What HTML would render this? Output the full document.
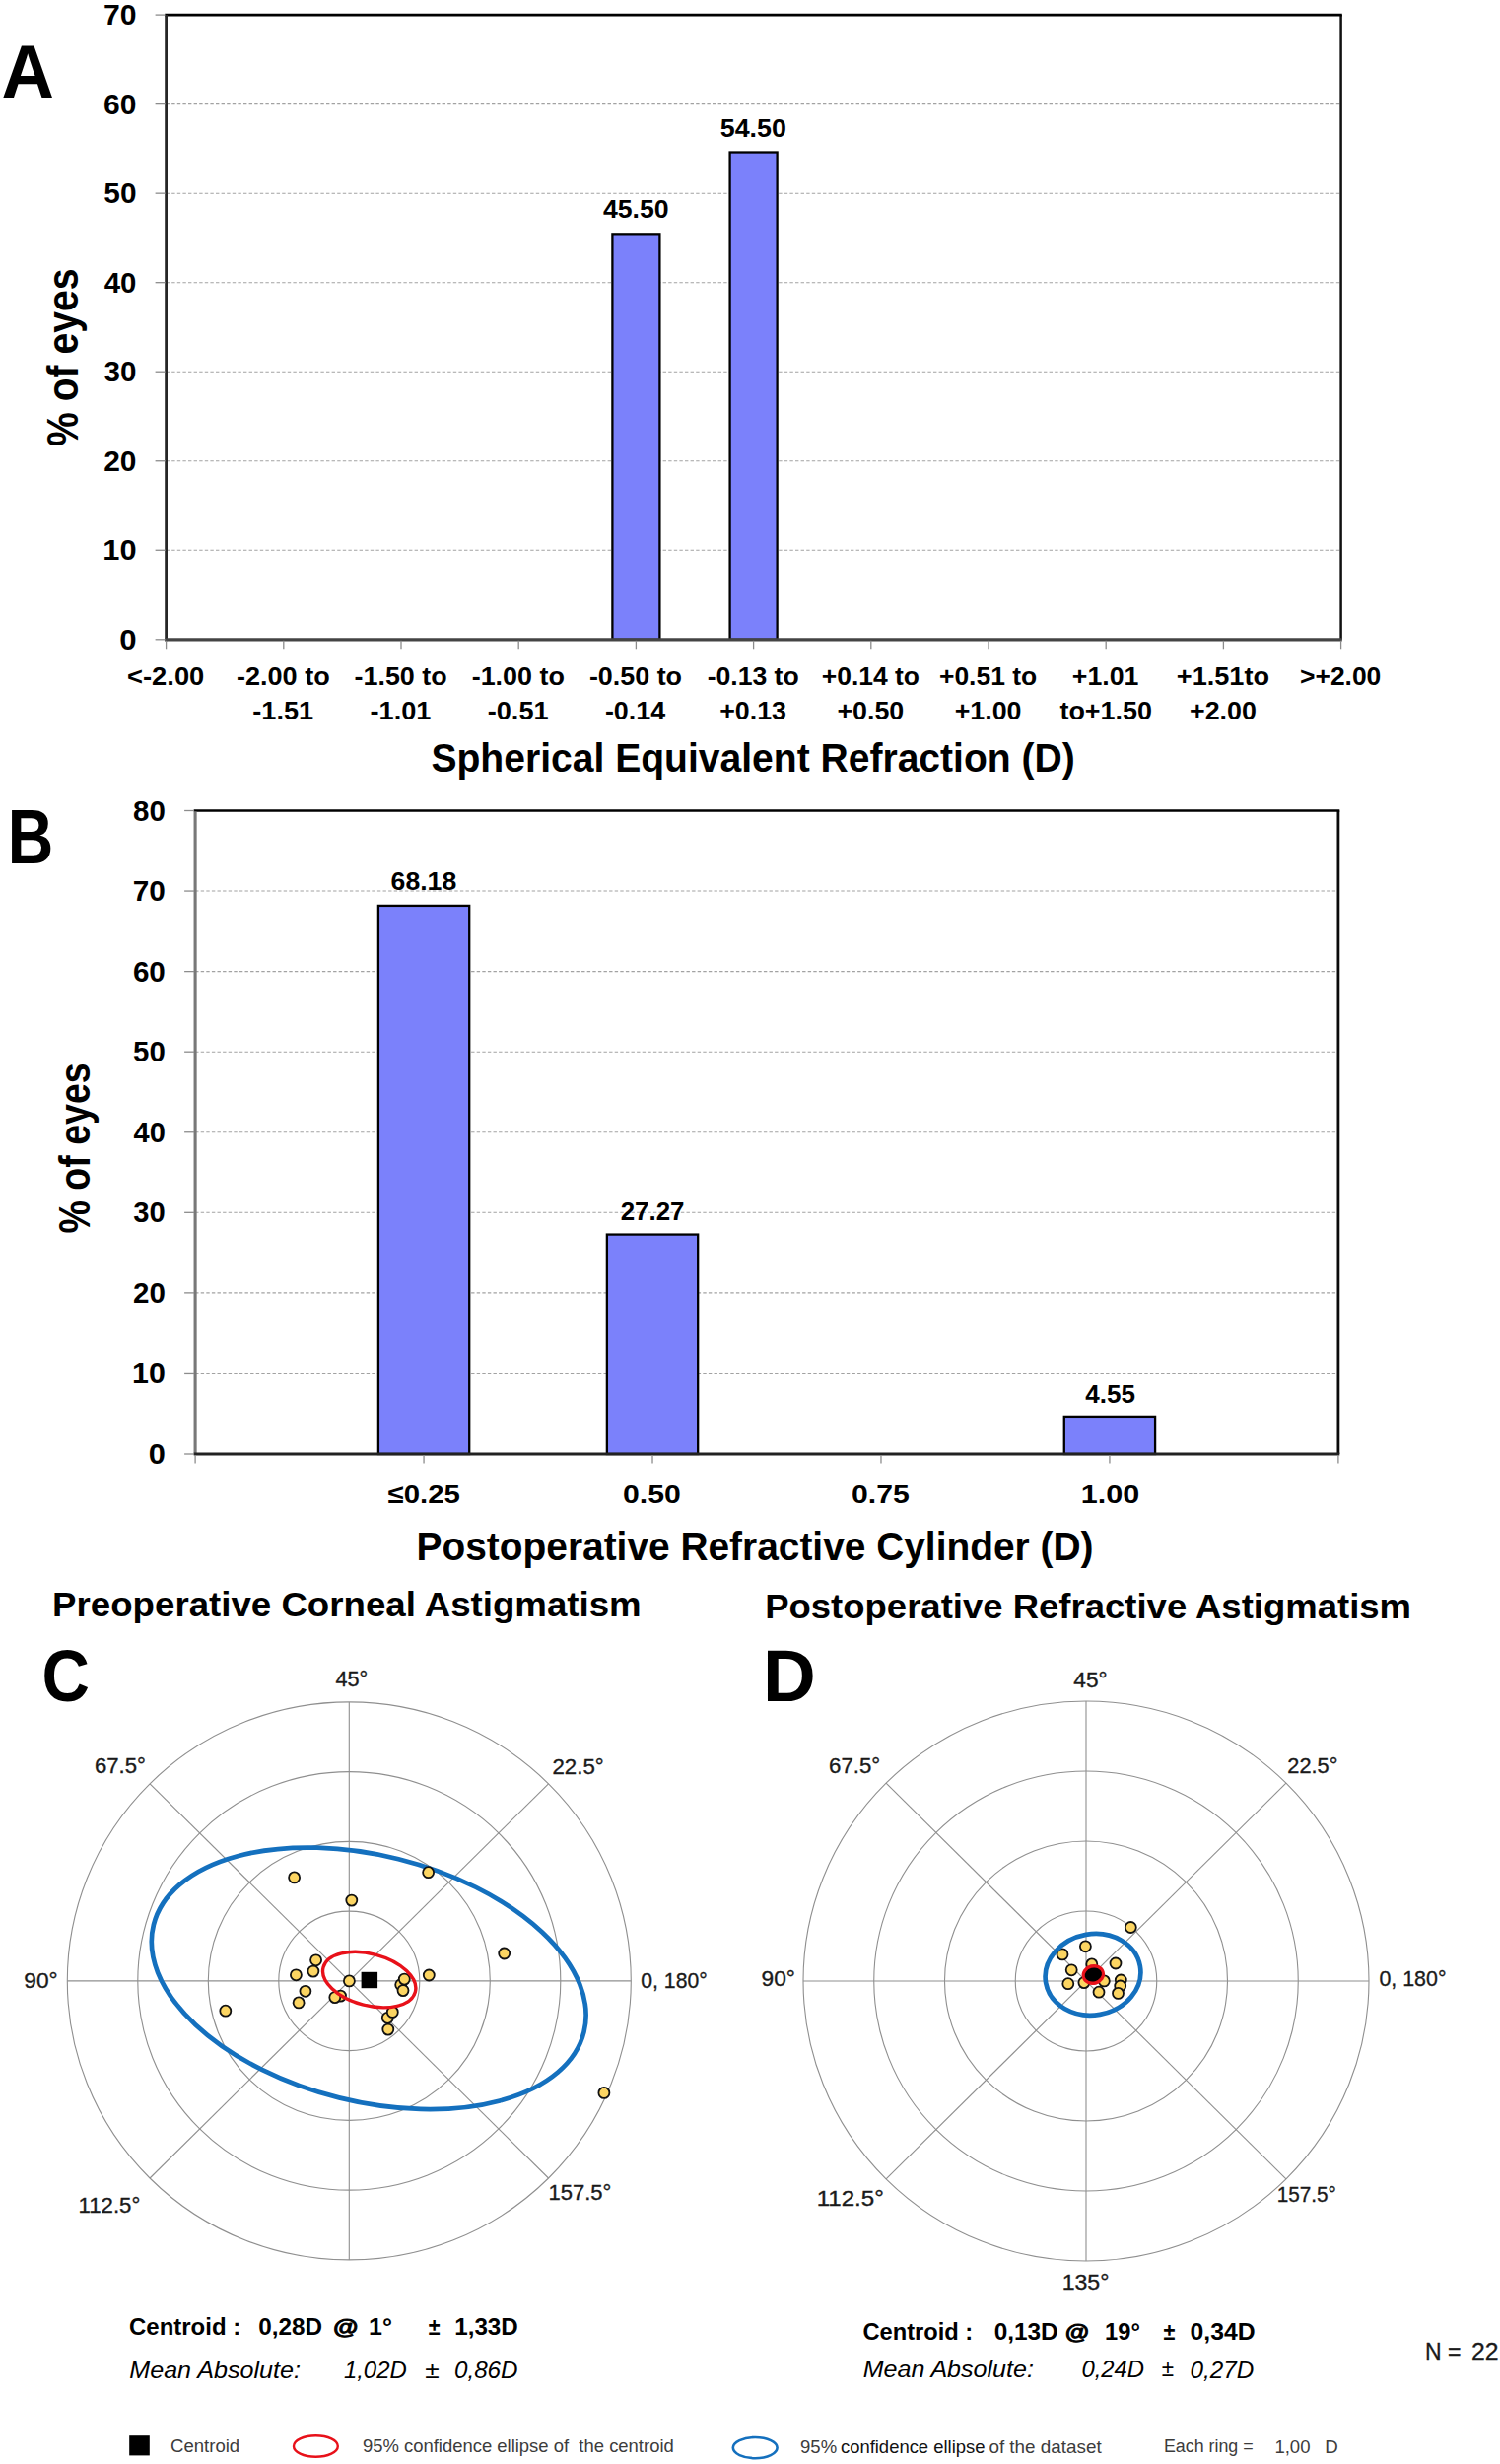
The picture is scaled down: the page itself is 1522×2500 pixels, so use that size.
<!DOCTYPE html>
<html lang="en">
<head>
<meta charset="utf-8">
<title>Refractive outcomes figure</title>
<style>
html,body{margin:0;padding:0;background:#fff;}
body{width:1522px;height:2500px;overflow:hidden;}
svg{display:block;}
svg text{font-family:"Liberation Sans",sans-serif;font-weight:bold;fill:#000;white-space:pre;}
svg text.n{font-weight:normal;}
svg text.h{stroke:#1a1a1a;stroke-width:0.35px;}
svg text.i{font-style:italic;}
</style>
</head>
<body>
<svg width="1522" height="2500" viewBox="0 0 1522 2500">
<rect width="1522" height="2500" fill="#fff"/>
<g id="chartA">
<line x1="168.6" x2="1360.6" y1="558.27" y2="558.27" stroke="#a2a2a2" stroke-width="1.05" stroke-dasharray="3.4 2.2"/>
<line x1="168.6" x2="1360.6" y1="467.74" y2="467.74" stroke="#a2a2a2" stroke-width="1.05" stroke-dasharray="3.4 2.2"/>
<line x1="168.6" x2="1360.6" y1="377.21" y2="377.21" stroke="#a2a2a2" stroke-width="1.05" stroke-dasharray="3.4 2.2"/>
<line x1="168.6" x2="1360.6" y1="286.69" y2="286.69" stroke="#a2a2a2" stroke-width="1.05" stroke-dasharray="3.4 2.2"/>
<line x1="168.6" x2="1360.6" y1="196.16" y2="196.16" stroke="#a2a2a2" stroke-width="1.05" stroke-dasharray="3.4 2.2"/>
<line x1="168.6" x2="1360.6" y1="105.63" y2="105.63" stroke="#a2a2a2" stroke-width="1.05" stroke-dasharray="3.4 2.2"/>
<rect x="621.40" y="237.35" width="48" height="411.45" fill="#7B81FB" stroke="#000" stroke-width="2.3"/>
<rect x="740.60" y="154.51" width="48" height="494.29" fill="#7B81FB" stroke="#000" stroke-width="2.3"/>
<line x1="1360.6" x2="1360.6" y1="15.1" y2="648.8" stroke="#111" stroke-width="2.5"/>
<line x1="167.2" x2="1361.8" y1="15.1" y2="15.1" stroke="#000" stroke-width="2.8"/>
<line x1="168.6" x2="168.6" y1="15.1" y2="650.1999999999999" stroke="#262626" stroke-width="2.8"/>
<line x1="167.2" x2="1361.8" y1="648.8" y2="648.8" stroke="#444" stroke-width="3.2"/>
<line x1="157.6" x2="167.6" y1="648.80" y2="648.80" stroke="#8c8c8c" stroke-width="1.3"/>
<line x1="157.6" x2="167.6" y1="558.27" y2="558.27" stroke="#8c8c8c" stroke-width="1.3"/>
<line x1="157.6" x2="167.6" y1="467.74" y2="467.74" stroke="#8c8c8c" stroke-width="1.3"/>
<line x1="157.6" x2="167.6" y1="377.21" y2="377.21" stroke="#8c8c8c" stroke-width="1.3"/>
<line x1="157.6" x2="167.6" y1="286.69" y2="286.69" stroke="#8c8c8c" stroke-width="1.3"/>
<line x1="157.6" x2="167.6" y1="196.16" y2="196.16" stroke="#8c8c8c" stroke-width="1.3"/>
<line x1="157.6" x2="167.6" y1="105.63" y2="105.63" stroke="#8c8c8c" stroke-width="1.3"/>
<line x1="157.6" x2="167.6" y1="15.10" y2="15.10" stroke="#8c8c8c" stroke-width="1.3"/>
<line x1="168.60" x2="168.60" y1="649.8" y2="658.3" stroke="#8c8c8c" stroke-width="1.3"/>
<line x1="287.80" x2="287.80" y1="649.8" y2="658.3" stroke="#8c8c8c" stroke-width="1.3"/>
<line x1="407.00" x2="407.00" y1="649.8" y2="658.3" stroke="#8c8c8c" stroke-width="1.3"/>
<line x1="526.20" x2="526.20" y1="649.8" y2="658.3" stroke="#8c8c8c" stroke-width="1.3"/>
<line x1="645.40" x2="645.40" y1="649.8" y2="658.3" stroke="#8c8c8c" stroke-width="1.3"/>
<line x1="764.60" x2="764.60" y1="649.8" y2="658.3" stroke="#8c8c8c" stroke-width="1.3"/>
<line x1="883.80" x2="883.80" y1="649.8" y2="658.3" stroke="#8c8c8c" stroke-width="1.3"/>
<line x1="1003.00" x2="1003.00" y1="649.8" y2="658.3" stroke="#8c8c8c" stroke-width="1.3"/>
<line x1="1122.20" x2="1122.20" y1="649.8" y2="658.3" stroke="#8c8c8c" stroke-width="1.3"/>
<line x1="1241.40" x2="1241.40" y1="649.8" y2="658.3" stroke="#8c8c8c" stroke-width="1.3"/>
<line x1="1360.60" x2="1360.60" y1="649.8" y2="658.3" stroke="#8c8c8c" stroke-width="1.3"/>
<text transform="translate(121.15 658.90) scale(1.0283 1)" font-size="30.3">0</text>
<text transform="translate(104.28 568.37) scale(1.0155 1)" font-size="30.3">10</text>
<text transform="translate(105.15 477.84) scale(0.9885 1)" font-size="30.3">20</text>
<text transform="translate(105.53 387.31) scale(0.9767 1)" font-size="30.3">30</text>
<text transform="translate(105.76 296.79) scale(0.9698 1)" font-size="30.3">40</text>
<text transform="translate(105.31 206.26) scale(0.9838 1)" font-size="30.3">50</text>
<text transform="translate(105.07 115.73) scale(0.9909 1)" font-size="30.3">60</text>
<text transform="translate(104.92 24.60) scale(0.9957 1)" font-size="30.3">70</text>
<text transform="translate(611.90 221.00) scale(1.0068 1)" font-size="26.5">45.50</text>
<text transform="translate(730.80 138.80) scale(1.0115 1)" font-size="26.5">54.50</text>
<text transform="translate(129.04 694.60) scale(1.0316 1)" font-size="26.5">&lt;-2.00</text>
<text transform="translate(240.02 694.60) scale(1.0210 1)" font-size="26.5">-2.00 to</text>
<text transform="translate(256.31 729.80) scale(1.0245 1)" font-size="26.5">-1.51</text>
<text transform="translate(359.52 694.60) scale(1.0144 1)" font-size="26.5">-1.50 to</text>
<text transform="translate(375.51 729.80) scale(1.0245 1)" font-size="26.5">-1.01</text>
<text transform="translate(478.72 694.60) scale(1.0144 1)" font-size="26.5">-1.00 to</text>
<text transform="translate(494.71 729.80) scale(1.0245 1)" font-size="26.5">-0.51</text>
<text transform="translate(597.92 694.60) scale(1.0144 1)" font-size="26.5">-0.50 to</text>
<text transform="translate(613.92 729.80) scale(1.0142 1)" font-size="26.5">-0.14</text>
<text transform="translate(717.64 694.60) scale(1.0033 1)" font-size="26.5">-0.13 to</text>
<text transform="translate(730.26 729.80) scale(1.0094 1)" font-size="26.5">+0.13</text>
<text transform="translate(833.78 694.60) scale(0.9974 1)" font-size="26.5">+0.14 to</text>
<text transform="translate(849.46 729.80) scale(1.0114 1)" font-size="26.5">+0.50</text>
<text transform="translate(952.98 694.60) scale(0.9974 1)" font-size="26.5">+0.51 to</text>
<text transform="translate(968.66 729.80) scale(1.0114 1)" font-size="26.5">+1.00</text>
<text transform="translate(1087.87 694.60) scale(1.0063 1)" font-size="26.5">+1.01</text>
<text transform="translate(1075.46 729.80) scale(1.0151 1)" font-size="26.5">to+1.50</text>
<text transform="translate(1193.85 694.60) scale(1.0233 1)" font-size="26.5">+1.51to</text>
<text transform="translate(1207.06 729.80) scale(1.0114 1)" font-size="26.5">+2.00</text>
<text transform="translate(1319.08 694.60) scale(0.9963 1)" font-size="26.5">&gt;+2.00</text>
<text transform="translate(437.43 782.80) scale(0.9413 1)" font-size="41.5">Spherical Equivalent Refraction (D)</text>
<text transform="translate(78.80 452.00) rotate(-90) translate(-0.98 0) scale(0.8698 1)" font-size="45">% of eyes</text>
<text transform="translate(1.55 98.60) scale(0.9677 1)" font-size="76.5">A</text>
</g>
<g id="chartB">
<line x1="198.1" x2="1357.9" y1="1393.44" y2="1393.44" stroke="#a2a2a2" stroke-width="1.05" stroke-dasharray="3.4 2.2"/>
<line x1="198.1" x2="1357.9" y1="1311.88" y2="1311.88" stroke="#a2a2a2" stroke-width="1.05" stroke-dasharray="3.4 2.2"/>
<line x1="198.1" x2="1357.9" y1="1230.31" y2="1230.31" stroke="#a2a2a2" stroke-width="1.05" stroke-dasharray="3.4 2.2"/>
<line x1="198.1" x2="1357.9" y1="1148.75" y2="1148.75" stroke="#a2a2a2" stroke-width="1.05" stroke-dasharray="3.4 2.2"/>
<line x1="198.1" x2="1357.9" y1="1067.19" y2="1067.19" stroke="#a2a2a2" stroke-width="1.05" stroke-dasharray="3.4 2.2"/>
<line x1="198.1" x2="1357.9" y1="985.62" y2="985.62" stroke="#a2a2a2" stroke-width="1.05" stroke-dasharray="3.4 2.2"/>
<line x1="198.1" x2="1357.9" y1="904.06" y2="904.06" stroke="#a2a2a2" stroke-width="1.05" stroke-dasharray="3.4 2.2"/>
<rect x="383.91" y="918.91" width="92.3" height="556.09" fill="#7B81FB" stroke="#000" stroke-width="2.3"/>
<rect x="615.87" y="1252.58" width="92.3" height="222.42" fill="#7B81FB" stroke="#000" stroke-width="2.3"/>
<rect x="1079.79" y="1437.89" width="92.3" height="37.11" fill="#7B81FB" stroke="#000" stroke-width="2.3"/>
<line x1="1357.9" x2="1357.9" y1="822.5" y2="1475.0" stroke="#0a0a0a" stroke-width="2.8"/>
<line x1="196.7" x2="1359.3000000000002" y1="822.5" y2="822.5" stroke="#000" stroke-width="2.6"/>
<line x1="198.1" x2="198.1" y1="823.5" y2="1476.0" stroke="#787878" stroke-width="3.1"/>
<line x1="196.7" x2="1359.3000000000002" y1="1475.0" y2="1475.0" stroke="#222" stroke-width="2.8"/>
<line x1="187.1" x2="197.1" y1="1475.00" y2="1475.00" stroke="#8c8c8c" stroke-width="1.3"/>
<line x1="187.1" x2="197.1" y1="1393.44" y2="1393.44" stroke="#8c8c8c" stroke-width="1.3"/>
<line x1="187.1" x2="197.1" y1="1311.88" y2="1311.88" stroke="#8c8c8c" stroke-width="1.3"/>
<line x1="187.1" x2="197.1" y1="1230.31" y2="1230.31" stroke="#8c8c8c" stroke-width="1.3"/>
<line x1="187.1" x2="197.1" y1="1148.75" y2="1148.75" stroke="#8c8c8c" stroke-width="1.3"/>
<line x1="187.1" x2="197.1" y1="1067.19" y2="1067.19" stroke="#8c8c8c" stroke-width="1.3"/>
<line x1="187.1" x2="197.1" y1="985.62" y2="985.62" stroke="#8c8c8c" stroke-width="1.3"/>
<line x1="187.1" x2="197.1" y1="904.06" y2="904.06" stroke="#8c8c8c" stroke-width="1.3"/>
<line x1="187.1" x2="197.1" y1="822.50" y2="822.50" stroke="#8c8c8c" stroke-width="1.3"/>
<line x1="198.10" x2="198.10" y1="1476.0" y2="1484.5" stroke="#8c8c8c" stroke-width="1.3"/>
<line x1="430.06" x2="430.06" y1="1476.0" y2="1484.5" stroke="#8c8c8c" stroke-width="1.3"/>
<line x1="662.02" x2="662.02" y1="1476.0" y2="1484.5" stroke="#8c8c8c" stroke-width="1.3"/>
<line x1="893.98" x2="893.98" y1="1476.0" y2="1484.5" stroke="#8c8c8c" stroke-width="1.3"/>
<line x1="1125.94" x2="1125.94" y1="1476.0" y2="1484.5" stroke="#8c8c8c" stroke-width="1.3"/>
<line x1="1357.90" x2="1357.90" y1="1476.0" y2="1484.5" stroke="#8c8c8c" stroke-width="1.3"/>
<text transform="translate(150.77 1485.00) scale(1.0246 1)" font-size="30.0">0</text>
<text transform="translate(134.10 1403.44) scale(1.0124 1)" font-size="30.0">10</text>
<text transform="translate(134.97 1321.88) scale(0.9855 1)" font-size="30.0">20</text>
<text transform="translate(135.34 1240.31) scale(0.9737 1)" font-size="30.0">30</text>
<text transform="translate(135.56 1158.75) scale(0.9668 1)" font-size="30.0">40</text>
<text transform="translate(135.12 1077.19) scale(0.9808 1)" font-size="30.0">50</text>
<text transform="translate(134.89 995.62) scale(0.9879 1)" font-size="30.0">60</text>
<text transform="translate(134.73 914.06) scale(0.9927 1)" font-size="30.0">70</text>
<text transform="translate(135.04 832.50) scale(0.9831 1)" font-size="30.0">80</text>
<text transform="translate(396.60 903.40) scale(1.0042 1)" font-size="26.5">68.18</text>
<text transform="translate(629.69 1238.00) scale(0.9772 1)" font-size="26.5">27.27</text>
<text transform="translate(1101.31 1423.20) scale(0.9818 1)" font-size="26.5">4.55</text>
<text transform="translate(393.54 1524.80) scale(1.1082 1)" font-size="26.5">≤0.25</text>
<text transform="translate(632.09 1524.80) scale(1.1392 1)" font-size="26.5">0.50</text>
<text transform="translate(864.09 1524.80) scale(1.1396 1)" font-size="26.5">0.75</text>
<text transform="translate(1096.79 1524.80) scale(1.1531 1)" font-size="26.5">1.00</text>
<text transform="translate(422.58 1582.60) scale(0.9484 1)" font-size="41">Postoperative Refractive Cylinder (D)</text>
<text transform="translate(91.20 1250.60) rotate(-90) translate(-0.94 0) scale(0.8536 1)" font-size="44">% of eyes</text>
<text transform="translate(7.65 876.00) scale(0.8367 1)" font-size="77.0">B</text>
</g>
<g id="polarC">
<text transform="translate(53.12 1640.40) scale(1.0329 1)" font-size="35.5">Preoperative Corneal Astigmatism</text>
<text transform="translate(42.62 1726.40) scale(0.9119 1)" font-size="73.5">C</text>
<ellipse cx="354.3" cy="2009.9" rx="71.50" ry="70.75" fill="none" stroke="#8f8f8f" stroke-width="1.1"/>
<ellipse cx="354.3" cy="2009.9" rx="143.00" ry="141.50" fill="none" stroke="#8f8f8f" stroke-width="1.1"/>
<ellipse cx="354.3" cy="2009.9" rx="214.50" ry="212.25" fill="none" stroke="#8f8f8f" stroke-width="1.1"/>
<ellipse cx="354.3" cy="2009.9" rx="286.00" ry="283.00" fill="none" stroke="#8f8f8f" stroke-width="1.1"/>
<line x1="68.30000000000001" x2="640.3" y1="2009.9" y2="2009.9" stroke="#8f8f8f" stroke-width="1.1"/>
<line x1="354.3" x2="354.3" y1="1726.9" y2="2292.9" stroke="#8f8f8f" stroke-width="1.1"/>
<line x1="152.07" x2="556.53" y1="1809.79" y2="2210.01" stroke="#8f8f8f" stroke-width="1.1"/>
<line x1="152.07" x2="556.53" y1="2210.01" y2="1809.79" stroke="#8f8f8f" stroke-width="1.1"/>
<ellipse cx="374.2" cy="2007.3" rx="225" ry="124.8" transform="rotate(14 374.2 2007.3)" fill="none" stroke="#1470BE" stroke-width="4.7"/>
<circle cx="298.6" cy="1904.9" r="5.5" fill="#FCD562" stroke="#111" stroke-width="1.8"/>
<circle cx="434.6" cy="1899.7" r="5.5" fill="#FCD562" stroke="#111" stroke-width="1.8"/>
<circle cx="356.8" cy="1928.1" r="5.5" fill="#FCD562" stroke="#111" stroke-width="1.8"/>
<circle cx="511.7" cy="1982.0" r="5.5" fill="#FCD562" stroke="#111" stroke-width="1.8"/>
<circle cx="435.3" cy="2004.0" r="5.5" fill="#FCD562" stroke="#111" stroke-width="1.8"/>
<circle cx="320.6" cy="1988.8" r="5.5" fill="#FCD562" stroke="#111" stroke-width="1.8"/>
<circle cx="317.9" cy="2000.1" r="5.5" fill="#FCD562" stroke="#111" stroke-width="1.8"/>
<circle cx="300.4" cy="2003.8" r="5.5" fill="#FCD562" stroke="#111" stroke-width="1.8"/>
<circle cx="309.9" cy="2020.3" r="5.5" fill="#FCD562" stroke="#111" stroke-width="1.8"/>
<circle cx="303.1" cy="2031.9" r="5.5" fill="#FCD562" stroke="#111" stroke-width="1.8"/>
<circle cx="228.8" cy="2040.2" r="5.5" fill="#FCD562" stroke="#111" stroke-width="1.8"/>
<circle cx="354.4" cy="2009.9" r="5.5" fill="#FCD562" stroke="#111" stroke-width="1.8"/>
<circle cx="345.5" cy="2025.1" r="5.5" fill="#FCD562" stroke="#111" stroke-width="1.8"/>
<circle cx="339.8" cy="2026.6" r="5.5" fill="#FCD562" stroke="#111" stroke-width="1.8"/>
<circle cx="406.7" cy="2013.7" r="5.5" fill="#FCD562" stroke="#111" stroke-width="1.8"/>
<circle cx="410.3" cy="2008.1" r="5.5" fill="#FCD562" stroke="#111" stroke-width="1.8"/>
<circle cx="409.0" cy="2019.6" r="5.5" fill="#FCD562" stroke="#111" stroke-width="1.8"/>
<circle cx="393.3" cy="2047.3" r="5.5" fill="#FCD562" stroke="#111" stroke-width="1.8"/>
<circle cx="398.3" cy="2041.4" r="5.5" fill="#FCD562" stroke="#111" stroke-width="1.8"/>
<circle cx="393.8" cy="2059.1" r="5.5" fill="#FCD562" stroke="#111" stroke-width="1.8"/>
<circle cx="612.9" cy="2123.4" r="5.5" fill="#FCD562" stroke="#111" stroke-width="1.8"/>
<ellipse cx="374.7" cy="2008.6" rx="48.3" ry="26.2" transform="rotate(15 374.7 2008.6)" fill="none" stroke="#E8111A" stroke-width="3.4"/>
<rect x="366.6" y="2000.8" width="16.5" height="16.4" fill="#000"/>
<text transform="translate(340.51 1711.00) scale(0.9635 1)" class="n h" font-size="22.5" style="fill:#1a1a1a">45°</text>
<text transform="translate(95.89 1799.40) scale(0.9852 1)" class="n h" font-size="22.5" style="fill:#1a1a1a">67.5°</text>
<text transform="translate(560.49 1800.20) scale(0.9892 1)" class="n h" font-size="22.5" style="fill:#1a1a1a">22.5°</text>
<text transform="translate(24.32 2017.00) scale(1.0091 1)" class="n h" font-size="22.5" style="fill:#1a1a1a">90°</text>
<text transform="translate(650.35 2017.00) scale(0.9408 1)" class="n h" font-size="22.5" style="fill:#1a1a1a">0, 180°</text>
<text transform="translate(79.53 2244.70) scale(0.9871 1)" class="n h" font-size="22.5" style="fill:#1a1a1a">112.5°</text>
<text transform="translate(556.45 2232.00) scale(0.9780 1)" class="n h" font-size="22.5" style="fill:#1a1a1a">157.5°</text>
</g>
<g id="polarD">
<text transform="translate(776.14 1641.80) scale(1.0284 1)" font-size="35.5">Postoperative Refractive Astigmatism</text>
<text transform="translate(773.97 1726.20) scale(1.0061 1)" font-size="74.0">D</text>
<ellipse cx="1102.0" cy="2010.0" rx="71.75" ry="71.00" fill="none" stroke="#8f8f8f" stroke-width="1.1"/>
<ellipse cx="1102.0" cy="2010.0" rx="143.50" ry="142.00" fill="none" stroke="#8f8f8f" stroke-width="1.1"/>
<ellipse cx="1102.0" cy="2010.0" rx="215.25" ry="213.00" fill="none" stroke="#8f8f8f" stroke-width="1.1"/>
<ellipse cx="1102.0" cy="2010.0" rx="287.00" ry="284.00" fill="none" stroke="#8f8f8f" stroke-width="1.1"/>
<line x1="815.0" x2="1389.0" y1="2010.0" y2="2010.0" stroke="#8f8f8f" stroke-width="1.1"/>
<line x1="1102.0" x2="1102.0" y1="1726.0" y2="2294.0" stroke="#8f8f8f" stroke-width="1.1"/>
<line x1="899.06" x2="1304.94" y1="1809.18" y2="2210.82" stroke="#8f8f8f" stroke-width="1.1"/>
<line x1="899.06" x2="1304.94" y1="2210.82" y2="1809.18" stroke="#8f8f8f" stroke-width="1.1"/>
<circle cx="1147.3" cy="1955.5" r="5.5" fill="#FCD562" stroke="#111" stroke-width="1.8"/>
<circle cx="1101.4" cy="1974.8" r="5.5" fill="#FCD562" stroke="#111" stroke-width="1.8"/>
<circle cx="1078.0" cy="1982.9" r="5.5" fill="#FCD562" stroke="#111" stroke-width="1.8"/>
<circle cx="1087.2" cy="1998.8" r="5.5" fill="#FCD562" stroke="#111" stroke-width="1.8"/>
<circle cx="1083.8" cy="2012.7" r="5.5" fill="#FCD562" stroke="#111" stroke-width="1.8"/>
<circle cx="1132.0" cy="1992.0" r="5.5" fill="#FCD562" stroke="#111" stroke-width="1.8"/>
<circle cx="1107.8" cy="1992.9" r="5.5" fill="#FCD562" stroke="#111" stroke-width="1.8"/>
<circle cx="1137.3" cy="2009.0" r="5.5" fill="#FCD562" stroke="#111" stroke-width="1.8"/>
<circle cx="1136.7" cy="2015.0" r="5.5" fill="#FCD562" stroke="#111" stroke-width="1.8"/>
<circle cx="1134.5" cy="2022.4" r="5.5" fill="#FCD562" stroke="#111" stroke-width="1.8"/>
<circle cx="1115.0" cy="2021.2" r="5.5" fill="#FCD562" stroke="#111" stroke-width="1.8"/>
<circle cx="1120.3" cy="2009.9" r="5.5" fill="#FCD562" stroke="#111" stroke-width="1.8"/>
<circle cx="1099.9" cy="2011.6" r="5.5" fill="#FCD562" stroke="#111" stroke-width="1.8"/>
<ellipse cx="1109.0" cy="2003.4" rx="48.6" ry="41.1" transform="rotate(-10 1109.0 2003.4)" fill="none" stroke="#1470BE" stroke-width="4.7"/>
<ellipse cx="1109.3" cy="2003.5" rx="11.8" ry="10.5" transform="rotate(-15 1109.3 2003.5)" fill="#E8111A"/>
<ellipse cx="1109.3" cy="2003.5" rx="8.8" ry="6.9" transform="rotate(-15 1109.3 2003.5)" fill="#000"/>
<text transform="translate(1089.29 1711.80) scale(1.0070 1)" class="n h" font-size="22.5" style="fill:#1a1a1a">45°</text>
<text transform="translate(841.09 1799.00) scale(0.9872 1)" class="n h" font-size="22.5" style="fill:#1a1a1a">67.5°</text>
<text transform="translate(1306.31 1799.00) scale(0.9673 1)" class="n h" font-size="22.5" style="fill:#1a1a1a">22.5°</text>
<text transform="translate(772.62 2015.20) scale(1.0091 1)" class="n h" font-size="22.5" style="fill:#1a1a1a">90°</text>
<text transform="translate(1399.44 2015.00) scale(0.9509 1)" class="n h" font-size="22.5" style="fill:#1a1a1a">0, 180°</text>
<text transform="translate(828.69 2238.40) scale(1.0713 1)" class="n h" font-size="22.5" style="fill:#1a1a1a">112.5°</text>
<text transform="translate(1295.75 2234.30) scale(0.9202 1)" class="n h" font-size="22.5" style="fill:#1a1a1a">157.5°</text>
<text transform="translate(1077.67 2323.10) scale(1.0257 1)" class="n h" font-size="22.5" style="fill:#1a1a1a">135°</text>
</g>
<g id="stats">
<text transform="translate(131.04 2368.80) scale(0.9669 1)" font-size="24.8">Centroid :</text>
<text transform="translate(262.23 2368.80) scale(0.9787 1)" font-size="24.8">0,28D</text>
<text transform="translate(337.73 2367.60) scale(1.2907 1)" class="i" font-size="20" stroke="#000" stroke-width="0.9">@</text>
<text transform="translate(374.04 2368.80) scale(1.0057 1)" font-size="24.8">1°</text>
<text transform="translate(434.72 2368.80) scale(0.8666 1)" font-size="24.8">±</text>
<text transform="translate(461.29 2368.80) scale(0.9747 1)" font-size="24.8">1,33D</text>
<text transform="translate(131.25 2412.80) scale(1.0474 1)" class="n i" font-size="24">Mean Absolute:</text>
<text transform="translate(348.90 2412.80) scale(0.9968 1)" class="n i" font-size="24">1,02D</text>
<text transform="translate(431.14 2412.80) scale(1.0997 1)" class="n i" font-size="24">±</text>
<text transform="translate(460.97 2412.80) scale(1.0083 1)" class="n i" font-size="24">0,86D</text>
<text transform="translate(875.45 2374.00) scale(0.9546 1)" font-size="24.8">Centroid :</text>
<text transform="translate(1008.63 2374.00) scale(0.9818 1)" font-size="24.8">0,13D</text>
<text transform="translate(1080.61 2372.80) scale(1.2326 1)" class="i" font-size="20" stroke="#000" stroke-width="0.9">@</text>
<text transform="translate(1121.12 2374.00) scale(0.9540 1)" font-size="24.8">19°</text>
<text transform="translate(1180.61 2374.00) scale(0.8747 1)" font-size="24.8">±</text>
<text transform="translate(1207.51 2374.00) scale(0.9989 1)" font-size="24.8">0,34D</text>
<text transform="translate(875.65 2412.40) scale(1.0449 1)" class="n i" font-size="24">Mean Absolute:</text>
<text transform="translate(1097.39 2412.40) scale(0.9939 1)" class="n i" font-size="24">0,24D</text>
<text transform="translate(1178.77 2410.50) scale(0.9364 1)" class="n i" font-size="24">±</text>
<text transform="translate(1207.47 2413.40) scale(1.0116 1)" class="n i" font-size="24">0,27D</text>
<text transform="translate(1445.90 2394.00) scale(0.9386 1)" class="n h" font-size="24.5" style="fill:#1a1a1a">N =</text>
<text transform="translate(1492.96 2394.00) scale(1.0103 1)" class="n h" font-size="24.5" style="fill:#1a1a1a">22</text>
</g>
<g id="legend">
<rect x="131.2" y="2471.2" width="20.6" height="20.2" fill="#000"/>
<text transform="translate(173.07 2488.00) scale(1.0301 1)" class="n" font-size="18" style="fill:#3c3c3c">Centroid</text>
<ellipse cx="320.4" cy="2482.0" rx="22.4" ry="10.8" fill="none" stroke="#E8111A" stroke-width="2.4"/>
<text transform="translate(367.92 2488.00) scale(1.0254 1)" class="n" font-size="18" style="fill:#3c3c3c">95% confidence ellipse of  the centroid</text>
<ellipse cx="766.2" cy="2483.6" rx="22.4" ry="10.6" fill="none" stroke="#1470BE" stroke-width="2.6"/>
<text transform="translate(812.02 2489.00) scale(1.0301 1)" class="n" font-size="18" style="fill:#3c3c3c">95%</text>
<text transform="translate(852.92 2489.00) scale(1.0249 1)" class="n" font-size="18" style="fill:#111">confidence ellipse</text>
<text transform="translate(1003.40 2489.00) scale(1.0483 1)" class="n" font-size="18" style="fill:#3c3c3c">of the dataset</text>
<text transform="translate(1180.93 2487.60) scale(0.9911 1)" class="n" font-size="18" style="fill:#3c3c3c">Each ring =</text>
<text transform="translate(1293.41 2489.00) scale(1.0308 1)" class="n" font-size="18" style="fill:#3c3c3c">1,00</text>
<text transform="translate(1344.25 2489.00) scale(1.0408 1)" class="n" font-size="18" style="fill:#3c3c3c">D</text>
</g>
</svg>
</body>
</html>
